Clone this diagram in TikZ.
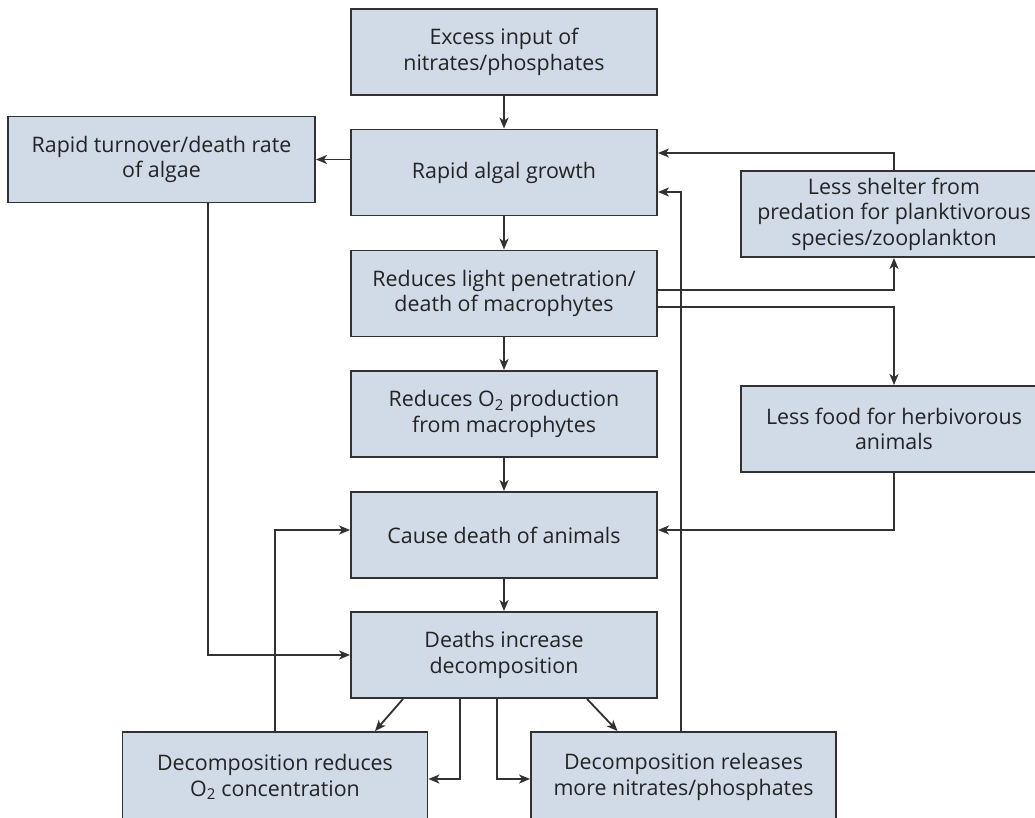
\documentclass[tikz,border=0pt]{standalone}
\usepackage{fontspec}
\setmainfont{Open Sans}
\usetikzlibrary{arrows.meta}
\definecolor{boxfill}{RGB}{208,219,231}
\definecolor{boxline}{RGB}{50,50,50}
\definecolor{txt}{RGB}{35,35,35}
\tikzset{
  stepbox/.style={draw=boxline, fill=boxfill, line width=1.9pt, minimum width=306pt, minimum height=86pt,
    inner sep=0pt, align=center, text=txt, font=\fontsize{21.4pt}{25.5pt}\selectfont},
  arr/.style={draw=boxline, line width=1.8pt, -{Stealth[length=11pt,width=9pt,inset=3pt]}},
}
\begin{document}
\begin{tikzpicture}[x=1pt,y=-1pt]
\useasboundingbox (0,0) rectangle (1035,818);
\fill[white] (0,0) rectangle (1035,818);
\node[stepbox] (ex) at (504,52) {Excess input of\\nitrates/phosphates};
\node[stepbox] (alg) at (504,172.5) {Rapid algal growth};
\node[stepbox, minimum width=307pt] (turn) at (161.5,159.5) {Rapid turnover/death rate\\of algae};
\node[stepbox] (light) at (504,293.5) {Reduces light penetration/\\death of macrophytes};
\node[stepbox] (o2) at (504,414) {Reduces O\textsubscript{2} production\\from macrophytes};
\node[stepbox] (cause) at (504,535) {Cause death of animals};
\node[stepbox] (deaths) at (504,655) {Deaths increase\\decomposition};
\node[stepbox, minimum width=305pt, minimum height=90pt] (dred) at (275,777) {Decomposition reduces\\O\textsubscript{2} concentration};
\node[stepbox, minimum width=305pt, minimum height=90pt] (drel) at (683.5,777) {Decomposition releases\\more nitrates/phosphates};
\node[stepbox] (shelter) at (894,214) {Less shelter from\\predation for planktivorous\\species/zooplankton};
\node[stepbox] (food) at (894,429) {Less food for herbivorous\\animals};

\draw[arr] (ex.south) -- (alg.north);
\draw[arr] (alg.west |- turn.east) -- (turn.east);
\draw[arr] (alg.south) -- (light.north);
\draw[arr] (light.south) -- (o2.north);
\draw[arr] (o2.south) -- (cause.north);
\draw[arr] (cause.south) -- (deaths.north);
\draw[arr] (shelter.north) |- ([yshift=19.5pt]alg.east);
\draw[arr] ([xshift=-2.5pt]drel.north) |- ([yshift=-19.5pt]alg.east);
\draw[arr] ([yshift=3.5pt]light.east) -| (shelter.south);
\draw[arr] ([yshift=-13.5pt]light.east) -| (food.north);
\draw[arr] (food.south) |- ([yshift=5pt]cause.east);
\draw[arr] (dred.north) |- ([yshift=5pt]cause.west);
\draw[arr] ([xshift=46.5pt]turn.south) |- (deaths.west);
\draw[arr] ([xshift=-101pt]deaths.south) -- ([xshift=100pt]dred.north);
\draw[arr] ([xshift=83pt]deaths.south) -- ([xshift=-66pt]drel.north);
\draw[arr] ([xshift=-44pt]deaths.south) |- ([yshift=-2pt]dred.east);
\draw[arr] ([xshift=-7pt]deaths.south) |- ([yshift=-2pt]drel.west);
\end{tikzpicture}
\end{document}
